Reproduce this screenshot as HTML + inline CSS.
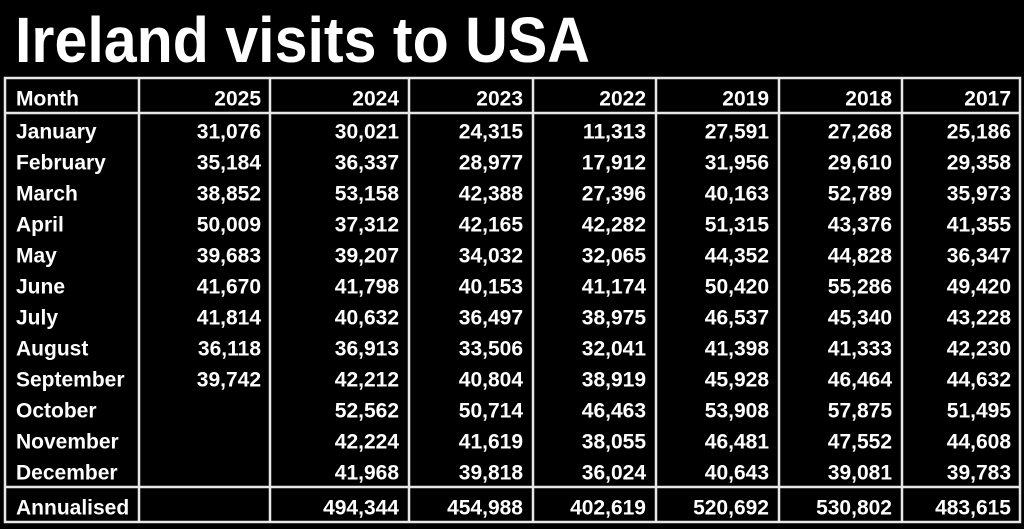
<!DOCTYPE html>
<html><head><meta charset="utf-8"><style>
html,body{margin:0;padding:0;background:#000;}
svg{display:block}
text{font-family:"Liberation Sans",sans-serif;font-weight:bold;fill:#fff}
</style></head><body>
<svg width="1024" height="529" viewBox="0 0 1024 529" xmlns="http://www.w3.org/2000/svg">
<rect width="1024" height="529" fill="#000"/>
<text x="15" y="62" font-size="64" textLength="575" lengthAdjust="spacingAndGlyphs">Ireland visits to USA</text>
<g stroke="#e8e8e8" stroke-width="2.5" fill="none">
<rect x="5" y="78" width="1015" height="444"/>
<line x1="5" y1="113" x2="1020" y2="113"/>
<line x1="5" y1="487" x2="1020" y2="487"/>
<line x1="139" y1="78" x2="139" y2="522"/>
<line x1="270" y1="78" x2="270" y2="522"/>
<line x1="409" y1="78" x2="409" y2="522"/>
<line x1="533" y1="78" x2="533" y2="522"/>
<line x1="656" y1="78" x2="656" y2="522"/>
<line x1="779" y1="78" x2="779" y2="522"/>
<line x1="902" y1="78" x2="902" y2="522"/>
</g>
<g font-size="21" id="t"></g>
</svg>
<script>
const rows=[
["Month","2025","2024","2023","2022","2019","2018","2017"],
["January","31,076","30,021","24,315","11,313","27,591","27,268","25,186"],
["February","35,184","36,337","28,977","17,912","31,956","29,610","29,358"],
["March","38,852","53,158","42,388","27,396","40,163","52,789","35,973"],
["April","50,009","37,312","42,165","42,282","51,315","43,376","41,355"],
["May","39,683","39,207","34,032","32,065","44,352","44,828","36,347"],
["June","41,670","41,798","40,153","41,174","50,420","55,286","49,420"],
["July","41,814","40,632","36,497","38,975","46,537","45,340","43,228"],
["August","36,118","36,913","33,506","32,041","41,398","41,333","42,230"],
["September","39,742","42,212","40,804","38,919","45,928","46,464","44,632"],
["October","","52,562","50,714","46,463","53,908","57,875","51,495"],
["November","","42,224","41,619","38,055","46,481","47,552","44,608"],
["December","","41,968","39,818","36,024","40,643","39,081","39,783"],
["Annualised","","494,344","454,988","402,619","520,692","530,802","483,615"]];
const rights=[261,399,523,646,769,892,1011];
const g=document.getElementById('t');const NS="http://www.w3.org/2000/svg";
rows.forEach((r,i)=>{
 let cy = i==0?98:(i==13?507:131+31*(i-1));
 r.forEach((v,j)=>{ if(!v)return;
  const t=document.createElementNS(NS,'text');
  t.setAttribute('y',cy+7.5);
  if(j==0){t.setAttribute('x',16);}else{t.setAttribute('x',rights[j-1]);t.setAttribute('text-anchor','end');}
  t.textContent=v;g.appendChild(t);});
});
</script>
</body></html>
